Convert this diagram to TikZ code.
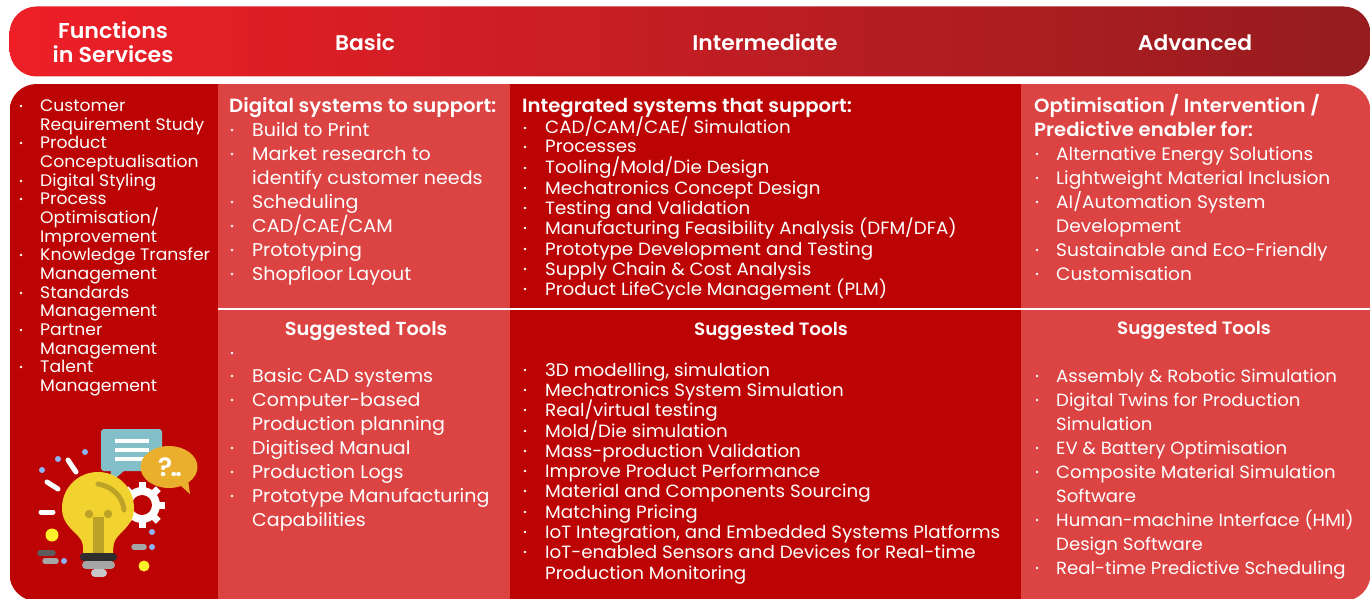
\documentclass[tikz,border=0pt]{standalone}
\usepackage{fontspec}
\setmainfont{Poppins}[FakeStretch=1.03]
\newfontfamily\hd{Poppins SemiBold}[FakeStretch=1.03]
\definecolor{darkred}{HTML}{BC0404}
\definecolor{lightred}{HTML}{DC4444}
\definecolor{barleft}{HTML}{EE1F27}
\definecolor{barmid}{HTML}{C52022}
\definecolor{barright}{HTML}{951C1F}
\definecolor{bubbleblue}{HTML}{83BFC9}
\definecolor{bubbleorange}{HTML}{EBAF2E}
\definecolor{bulbyellow}{HTML}{F2D22E}
\definecolor{bulbolive}{HTML}{BDA228}
\definecolor{dotblue}{HTML}{8FB2F5}
\definecolor{dotyellow}{HTML}{FFF02A}
\definecolor{pilldark}{HTML}{2E2E2E}
\definecolor{pillmid}{HTML}{5C5C5C}
\definecolor{pillgray}{HTML}{A6A6A6}
\definecolor{pilllight}{HTML}{C8C8C8}
\tikzset{
 x=1pt,y=-1pt,
 headtxt/.style={text=white,font=\hd\fontsize{21.2}{25}\selectfont,anchor=base,inner sep=0},
 firsthead/.style={text=white,font=\hd\fontsize{21.5}{25}\selectfont,anchor=base,inner sep=0},
 boldtxt/.style={text=white,font=\hd\fontsize{19.1}{24}\selectfont,anchor=base west,inner sep=0},
 toolhead/.style={text=white,font=\hd\fontsize{#1}{22}\selectfont,anchor=base,inner sep=0},
 itemA/.style={text=white,font=\fontsize{16.7}{19}\selectfont,anchor=base west,inner sep=0},
 itemB/.style={text=white,font=\fontsize{18.5}{24}\selectfont,anchor=base west,inner sep=0},
 itemC/.style={text=white,font=\fontsize{17.75}{20}\selectfont,anchor=base west,inner sep=0},
 itemD/.style={text=white,font=\fontsize{18.05}{24}\selectfont,anchor=base west,inner sep=0},
 itemE/.style={text=white,font=\fontsize{17.6}{24}\selectfont,anchor=base west,inner sep=0},
 dotmark/.style={circle,fill=white,inner sep=0,minimum size=2.8pt},
 pill/.style={line cap=round,line width=#1},
}
\begin{document}
\begin{tikzpicture}
\useasboundingbox (0,0) rectangle (1371,599);
% header bar
\shade[left color=barleft,middle color=barmid,right color=barright,rounded corners=27pt]
  (9.5,6.5) rectangle (1370.5,76.5);
\node[firsthead] (hf1) at (113,39) {Functions};
\node[firsthead] (hf2) at (113,63) {in Services};
\node[headtxt] (hb) at (365,51) {Basic};
\node[headtxt] (hi) at (765,51) {Intermediate};
\node[headtxt] (ha) at (1195,51) {Advanced};
% panel
\begin{scope}
\clip[rounded corners=27pt] (9.5,84) rectangle (1370.5,601);
\fill[darkred] (9.5,84) rectangle (218,601);
\fill[lightred] (218,84) rectangle (510,601);
\fill[darkred] (510,84) rectangle (1021,601);
\fill[lightred] (1021,84) rectangle (1370.5,601);
\draw[white,line width=1.6pt] (218,309) -- (1370.5,309);
\end{scope}
% left column
\foreach \yy/\tx [count=\i] in {105/Customer,124/{Requirement Study},142/Product,161/Conceptualisation,180/{Digital Styling},198/Process,217/{Optimisation/},236/Improvement,254/{Knowledge Transfer},273/Management,292/Standards,310/Management,329/Partner,348/Management,366/Talent,385/Management}
  \node[itemA] (a\i) at (40,\yy+6.3) {\tx};
\foreach \yy [count=\i] in {105,142,180,198,254,292,329,366}
  \node[dotmark] (ad\i) at (21,\yy+1) {};
% basic
\node[boldtxt] (bh) at (229,113) {Digital systems to support:};
\foreach \yy/\tx [count=\i] in {129/{Build to Print},153/{Market research to},177/{identify customer needs},201/Scheduling,225/{CAD/CAE/CAM},249/Prototyping,273/{Shopfloor Layout}}
  \node[itemB] (b\i) at (252,\yy+7.2) {\tx};
\foreach \yy [count=\i] in {129,153,201,225,249,273}
  \node[dotmark] (bd\i) at (232,\yy+1) {};
\node[toolhead=18.8] (bt) at (366,335) {Suggested Tools};
\foreach \yy/\tx [count=\i] in {375/{Basic CAD systems},399/{Computer-based},423/{Production planning},447/{Digitised Manual},471/{Production Logs},495/{Prototype Manufacturing},519/Capabilities}
  \node[itemB] (c\i) at (252,\yy+7.2) {\tx};
\foreach \yy [count=\i] in {352,375,399,447,471,495}
  \node[dotmark] (cd\i) at (232,\yy+1) {};
% intermediate
\node[boldtxt] (ih) at (522,113) {Integrated systems that support:};
\foreach \yy/\tx [count=\i] in {127/{CAD/CAM/CAE/ Simulation},146/Processes,167/{Tooling/Mold/Die Design},187/{Mechatronics Concept Design},207/{Testing and Validation},227/{Manufacturing Feasibility Analysis (DFM/DFA)},248/{Prototype Development and Testing},268/{Supply Chain \& Cost Analysis},288/{Product LifeCycle Management (PLM)}}
{
  \node[itemC] (d\i) at (545,\yy+7) {\tx};
  \node[dotmark] (dd\i) at (525,\yy+1) {};
}
\node[toolhead=17.8] (it) at (771,335) {Suggested Tools};
\foreach \yy/\tx [count=\i] in {369/{3D modelling, simulation},389/{Mechatronics System Simulation},409/{Real/virtual testing},430/{Mold/Die simulation},450/{Mass-production Validation},470/{Improve Product Performance},490/{Material and Components Sourcing},511/{Matching Pricing},531/{IoT Integration, and Embedded Systems Platforms},551/{IoT-enabled Sensors and Devices for Real-time},572/{Production Monitoring}}
  \node[itemC] (e\i) at (545,\yy+7) {\tx};
\foreach \yy [count=\i] in {369,389,409,430,450,470,490,511,531,551}
  \node[dotmark] (ed\i) at (525,\yy+1) {};
% advanced
\node[boldtxt] (fh1) at (1034,113) {Optimisation / Intervention /};
\node[boldtxt] (fh2) at (1034,137) {Predictive enabler for:};
\foreach \yy/\tx [count=\i] in {153/{Alternative Energy Solutions},177/{Lightweight Material Inclusion},201/{AI/Automation System},225/Development,249/{Sustainable and Eco-Friendly},273/Customisation}
  \node[itemD] (f\i) at (1056,\yy+7.2) {\tx};
\foreach \yy [count=\i] in {153,177,201,249,273}
  \node[dotmark] (fd\i) at (1037,\yy+1) {};
\node[toolhead=17.8] (ft) at (1194,334) {Suggested Tools};
\foreach \yy/\tx [count=\i] in {375/{Assembly \& Robotic Simulation},399/{Digital Twins for Production},423/Simulation,447/{EV \& Battery Optimisation},471/{Composite Material Simulation},495/Software,519/{Human-machine Interface (HMI)},543/{Design Software},567/{Real-time Predictive Scheduling}}
  \node[itemE] (g\i) at (1056,\yy+7.2) {\tx};
\foreach \yy [count=\i] in {375,399,447,471,519,567}
  \node[dotmark] (gd\i) at (1037,\yy+1) {};
% icon
\fill[bubbleblue,rounded corners=3pt] (101,429) rectangle (162,471);
\fill[bubbleblue] (111,470) -- (110,483) -- (125,470) -- cycle;
\foreach \yy in {441,450,459} \draw[white,line width=4pt] (115,\yy) -- (149,\yy);
% gear
\foreach \a in {0,45,...,315}
  \draw[white,line width=7pt] (142,505) -- ++(\a:23);
\fill[white] (142,505) circle (18);
\fill[darkred] (142,505) circle (10);
% bulb
\fill[bulbyellow] (83,554) .. controls (84,540) and (80,538) .. (74,532)
  .. controls (66,524) and (62,518) .. (62,508)
  .. controls (62,488) and (78,472) .. (98,472)
  .. controls (118,472) and (134,488) .. (134,508)
  .. controls (134,518) and (130,524) .. (122,532)
  .. controls (116,538) and (113,540) .. (113,554) -- cycle;
\draw[bulbolive,line width=5pt,line cap=round] (98,484) .. controls (112,486) and (123,497) .. (124,510);
\fill[bulbolive] (89,514) circle (4.2) (108,514) circle (4.2);
\fill[bulbolive] (93,517) rectangle (104,555);
\draw[pill=8pt,pilldark] (84,557) -- (113,557);
\draw[pill=8pt,pillgray] (86,565) -- (111,565);
\draw[pill=8pt,pilllight] (95,573) -- (103,573);
% orange bubble
\fill[bubbleorange] (169,467) ellipse [x radius=28.5,y radius=21];
\fill[bubbleorange] (180,485) -- (190,494) -- (188,480) -- cycle;
\node[text=white,font=\hd\fontsize{26}{26}\selectfont,inner sep=0,anchor=base] (qm) at (170,476.5) {?\kern-2pt.\kern-2pt.};
% rays and dots
\draw[pill=5pt,white] (68,460) -- (76,472);
\draw[pill=5pt,white] (47,482) -- (58,489);
\draw[pill=5pt,white] (41,512) -- (53,512);
\fill[dotblue] (85,452) circle (3) (58,459) circle (3) (42,470) circle (3) (152,532) circle (3) (152,547) circle (3) (64,561) circle (3);
\fill[dotyellow] (52,535) circle (6.5) (144,566) circle (5.5);
\draw[pill=5.5pt,pillmid] (40,553) -- (53,553);
\draw[pill=5.5pt,pillgray] (45,561) -- (56,561);
\draw[pill=5.5pt,pillgray] (134,547) -- (144,547);
\end{tikzpicture}
\end{document}
